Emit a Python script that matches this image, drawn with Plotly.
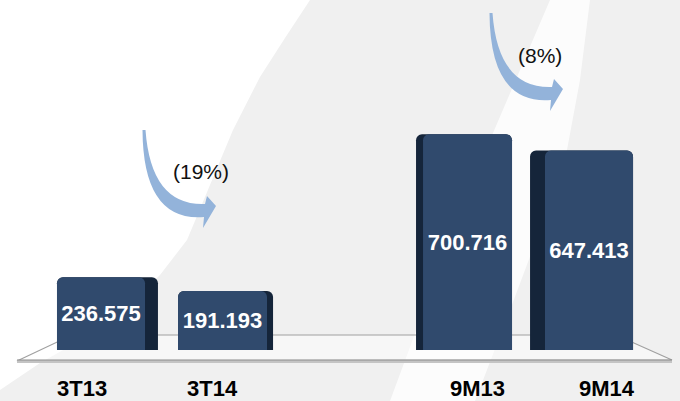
import plotly.graph_objects as go

# ---------------- data ----------------
groups = [["3T13", "3T14"], ["9M13", "9M14"]]
categories = ["3T13", "3T14", "9M13", "9M14"]
values = [236575, 191193, 700716, 647413]
comparisons = [(0, 1), (2, 3)]

# ---------------- style ----------------
W, H = 680, 401
FRONT = "#304a6d"
SIDE = "#15253a"
ARROW = "#93b3da"
BG_GREY = "#f0f0f0"
FONT = "Liberation Sans, Arial, sans-serif"

full_offset = [-0.424, -0.404, -0.398, -0.437]
full_width = [0.851, 0.801, 0.809, 0.868]
front_offset = [-0.424, -0.404, -0.339, -0.311]
front_width = [0.742, 0.750, 0.750, 0.742]
label_shift = [-25, -13, 14, 25]

# slot positions derived from group structure (one empty slot between groups)
pos = []
for g, grp in enumerate(groups):
    for j, _ in enumerate(grp):
        pos.append(g * (len(grp) + 1) + j)


def fmt(v):
    return f"{v/1000:.3f}"


def pp(x, y):
    return x / W, 1 - y / H


def path(cmds):
    out = []
    for c in cmds:
        if isinstance(c, str):
            out.append(c)
        else:
            px, py = pp(*c)
            out.append(f"{px:.5f},{py:.5f}")
    return " ".join(out)


fig = go.Figure()

fig.add_trace(go.Bar(
    x=pos, y=values, width=full_width, offset=full_offset,
    marker=dict(color=SIDE, line_width=0, cornerradius=6),
    hoverinfo="skip", showlegend=False))

fig.add_trace(go.Bar(
    x=pos, y=values, width=front_width, offset=front_offset,
    marker=dict(color=FRONT, line_width=0, cornerradius=6),
    text=[fmt(v) for v in values], textposition="inside",
    insidetextanchor="middle", constraintext="none", textangle=0,
    textfont=dict(color="white", size=22, family=FONT, weight="bold"),
    hoverinfo="skip", showlegend=False))

shapes = []
# background white regions
left_white = [(310, 0), (285, 38), (260, 77), (233, 130), (210, 185), (187, 240),
              (160, 275), (125, 308), (90, 335), (40, 363), (0, 390)]
cmd = ["M", (0, 0)]
for p in left_white:
    cmd += ["L", p]
cmd += ["Z"]
shapes.append(dict(type="path", xref="paper", yref="paper", path=path(cmd),
                   fillcolor="white", line_width=0, layer="below"))

band_left = [(550, 0), (520, 70), (490, 140), (455, 230), (420, 320), (390, 401)]
band_right = [(590, 0), (580, 80), (567, 150), (540, 230), (510, 310), (475, 401)]
cmd = ["M", band_left[0]]
for p in band_left[1:]:
    cmd += ["L", p]
for p in reversed(band_right):
    cmd += ["L", p]
cmd += ["Z"]
shapes.append(dict(type="path", xref="paper", yref="paper", path=path(cmd),
                   fillcolor="white", opacity=0.8, line_width=0, layer="below"))

# floor plane
shapes.append(dict(type="path", xref="paper", yref="paper",
                   path=path(["M", (17, 361), "L", (72, 335), "L", (616, 335), "L", (672, 360), "Z"]),
                   fillcolor="rgba(255,255,255,0.45)", line=dict(color="#a0a0a0", width=1.2),
                   layer="below"))
x0, _ = pp(17, 361)
x1, _ = pp(672, 360)
shapes.append(dict(type="line", xref="paper", yref="paper", x0=x0, y0=pp(0, 361.5)[1],
                   x1=x1, y1=pp(0, 361.5)[1], line=dict(color="#c4c4c4", width=3), layer="below"))
shapes.append(dict(type="line", xref="paper", yref="paper", x0=x0, y0=pp(0, 360)[1],
                   x1=x1, y1=pp(0, 360)[1], line=dict(color="#8c8c8c", width=1.2), layer="below"))

# curved arrows
arrow_base = [("M", (142.5, 130)), ("Q", (143, 222)), (None, (204, 217)), ("L", (203, 228)),
              ("L", (216, 206)), ("L", (207, 196)), ("L", (205, 204)), ("Q", (151, 206)),
              (None, (145.5, 130)), ("Z", None)]
arrow_offsets = [(0, 0), (347, -117)]
for dx, dy in arrow_offsets:
    cmd = []
    for k, p in arrow_base:
        if k:
            cmd.append(k)
        if p:
            cmd.append((p[0] + dx, p[1] + dy))
    shapes.append(dict(type="path", xref="paper", yref="paper", path=path(cmd),
                       fillcolor=ARROW, line_width=0, layer="above"))

annotations = []
pct_pos = [(201, 172), (540, 55)]
for (a, b), (px, py) in zip(comparisons, pct_pos):
    ch = round((values[b] / values[a] - 1) * 100)
    txt = f"({abs(ch)}%)" if ch < 0 else f"{ch}%"
    ax, ay = pp(px, py)
    annotations.append(dict(x=ax, y=ay, xref="paper", yref="paper", text=txt, showarrow=False,
                            xanchor="center", yanchor="middle",
                            font=dict(size=21, color="#111111", family=FONT)))

ly = pp(0, 388.5)[1]
for p, c, s in zip(pos, categories, label_shift):
    annotations.append(dict(x=p, y=ly, xref="x", yref="paper", text=c, showarrow=False,
                            xshift=s, xanchor="center", yanchor="middle",
                            font=dict(size=22, color="#000000", family=FONT, weight="bold")))

u = 118.65
o = 107.3
scale = 0.308  # px per thousand
ymin = -(H - 350) / scale * 1000
ymax = ymin + H / scale * 1000

fig.update_layout(
    width=W, height=H, autosize=False,
    margin=dict(l=0, r=0, t=0, b=0, pad=0),
    paper_bgcolor=BG_GREY, plot_bgcolor="rgba(0,0,0,0)",
    barmode="overlay", showlegend=False,
    xaxis=dict(range=[-o / u, (W - o) / u], visible=False, fixedrange=True),
    yaxis=dict(range=[ymin, ymax], visible=False, fixedrange=True),
    shapes=shapes, annotations=annotations,
)

fig.write_html("out.html", config={"displayModeBar": False},
               post_script="document.body.style.margin='0px';document.body.style.overflow='hidden';")
